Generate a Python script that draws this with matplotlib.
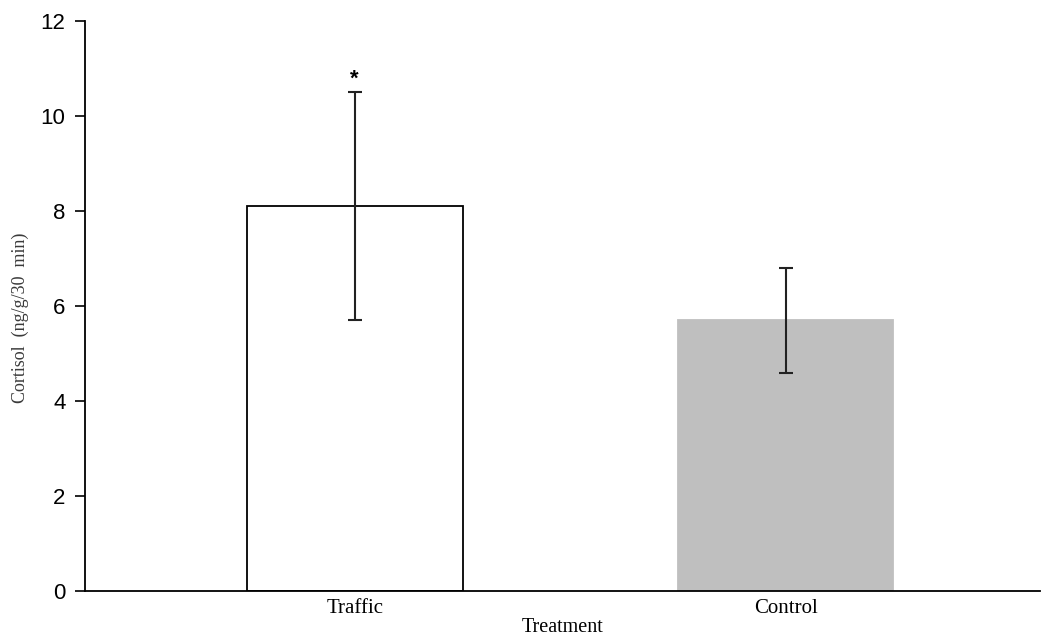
import matplotlib
matplotlib.use("Agg")
import matplotlib.pyplot as plt

categories = ["Traffic", "Control"]
values = [8.1, 5.7]
errors = [2.4, 1.1]
bar_colors = ["white", "#bfbfbf"]
edge_colors = ["black", "#bfbfbf"]
yticks = [0, 2, 4, 6, 8, 10, 12]

fig = plt.figure(figsize=(10.45, 6.4), dpi=100)
ax = fig.add_axes([85/1045, 1-591/640, (1040-85)/1045, (591-21)/640])

x = list(range(len(categories)))
ax.bar(x, values, width=0.5, color=bar_colors, edgecolor=edge_colors, linewidth=1.3, zorder=2)
ax.errorbar(x, values, yerr=errors, fmt="none", ecolor="#222222", elinewidth=1.5,
            capsize=5, capthick=1.5, zorder=3)
ax.text(x[0], values[0] + errors[0] + 0.05, "*", ha="center", va="bottom",
        fontsize=16, fontweight="bold", family="Liberation Sans")

ax.set_xlim(-0.626, 1.59)
ax.set_ylim(0, 12)
ax.set_yticks(yticks)
ax.set_yticklabels([str(t) for t in yticks], family="Liberation Sans", fontsize=16)
ax.tick_params(axis="y", direction="out", length=7, width=1.2, pad=7)
ax.set_xticks(x)
ax.set_xticklabels(categories, family="Liberation Serif", fontsize=15)
ax.tick_params(axis="x", length=0, pad=6)

for s in ["top", "right"]:
    ax.spines[s].set_visible(False)
ax.spines["left"].set_linewidth(1.3)
ax.spines["bottom"].set_linewidth(1.3)

fig.text(563/1045, 1-627/640, "Treatment", ha="center", va="center",
         family="Liberation Serif", fontsize=14.5)
fig.text(20/1045, 1-318/640, "Cortisol  (ng/g/30  min)", ha="center", va="center",
         rotation=90, family="Liberation Serif", fontsize=13, color="#3a3a3a")

fig.savefig("out.png", dpi=100)
